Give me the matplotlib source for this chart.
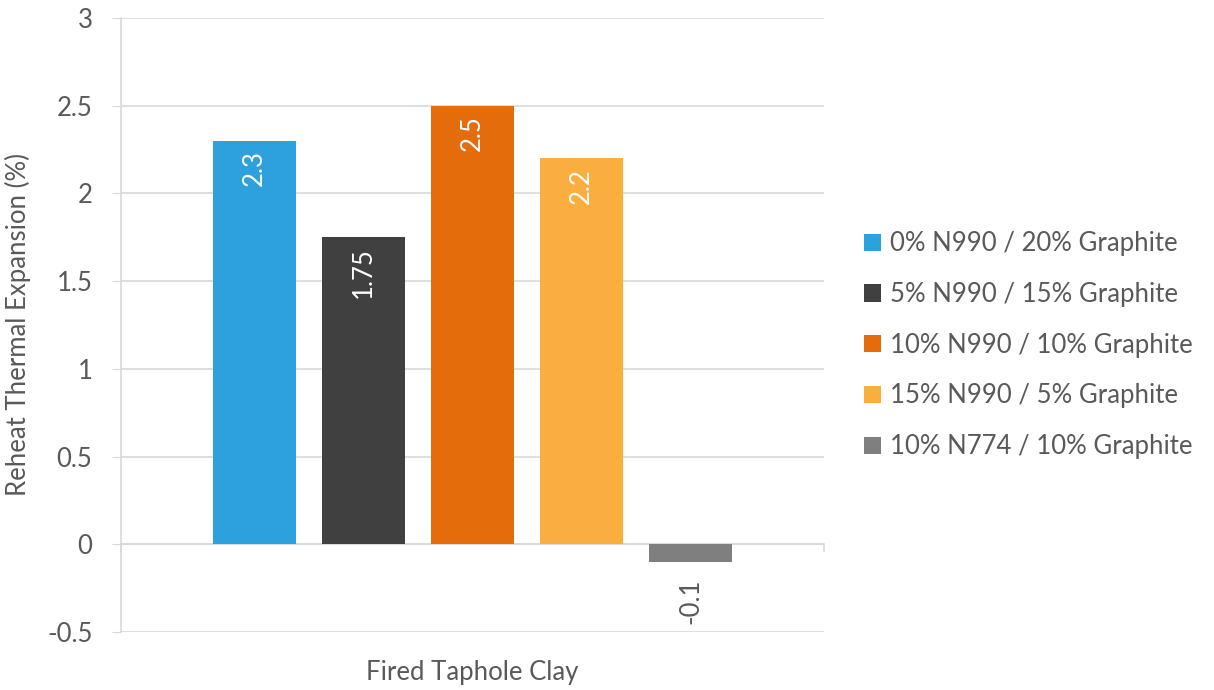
import numpy as np
import matplotlib.pyplot as plt

plt.rcParams['font.family'] = ['Lato', 'DejaVu Sans']

category = "Fired Taphole Clay"
series = ["0% N990 / 20% Graphite", "5% N990 / 15% Graphite",
          "10% N990 / 10% Graphite", "15% N990 / 5% Graphite",
          "10% N774 / 10% Graphite"]
values = [2.3, 1.75, 2.5, 2.2, -0.1]
labels = ["2.3", "1.75", "2.5", "2.2", "-0.1"]
colors = ["#2CA1DC", "#404040", "#E46C0A", "#FAAE40", "#7F7F7F"]

txt = "#595959"
grid = "#D9D9D9"
fs = 18.5

fig = plt.figure(figsize=(12.14, 6.90), dpi=100)
ax = fig.add_axes([121 / 1214, 58 / 690, 703 / 1214, 614 / 690])

# bars spaced 1 unit apart, centred on the single category at x=0
x = np.arange(len(values)) - 2
bars = ax.bar(x, values, width=0.77, color=colors, label=series, zorder=3)

for b, v, lab in zip(bars, values, labels):
    cx = b.get_x() + b.get_width() / 2
    if v >= 0:
        ax.text(cx, v - 0.055, lab, rotation=90, ha='center', va='top',
                color='white', fontsize=fs, zorder=4)
    else:
        ax.text(cx, v - 0.095, lab, rotation=90, ha='center', va='top',
                color=txt, fontsize=fs, zorder=4)

ax.set_xlim(-3.225, 3.225)
ax.set_ylim(-0.5, 3)
ax.set_yticks(np.arange(-0.5, 3.01, 0.5))
ax.set_yticklabels(["-0.5", "0", "0.5", "1", "1.5", "2", "2.5", "3"])
ax.yaxis.grid(True, color=grid, linewidth=1.2, zorder=0)
ax.tick_params(axis='y', length=6.5, color=grid, labelsize=fs, labelcolor=txt, pad=14)
ax.set_xticks([0])
ax.set_xticklabels([category])
ax.tick_params(axis='x', length=0, labelsize=fs, labelcolor=txt, pad=20)

for s in ['top', 'right', 'bottom']:
    ax.spines[s].set_visible(False)
ax.spines['left'].set_color(grid)
ax.spines['left'].set_linewidth(1.2)

# horizontal axis at zero with category boundary ticks
ax.axhline(0, color=grid, linewidth=1.2, zorder=2)
for xe in ax.get_xlim():
    ax.plot([xe, xe], [0, -0.04], color=grid, linewidth=1.2, clip_on=False, zorder=2)

ax.set_ylabel("Reheat Thermal Expansion (%)", fontsize=fs, color=txt)
ax.yaxis.set_label_coords(-0.128, 0.5)

leg = ax.legend(loc='center left', bbox_to_anchor=(1.057, 0.467), frameon=False,
                fontsize=fs, labelcolor=txt, handlelength=0.65, handleheight=0.65,
                handletextpad=0.35, labelspacing=1.0, borderpad=0, borderaxespad=0)

fig.savefig("out.png", dpi=100)
